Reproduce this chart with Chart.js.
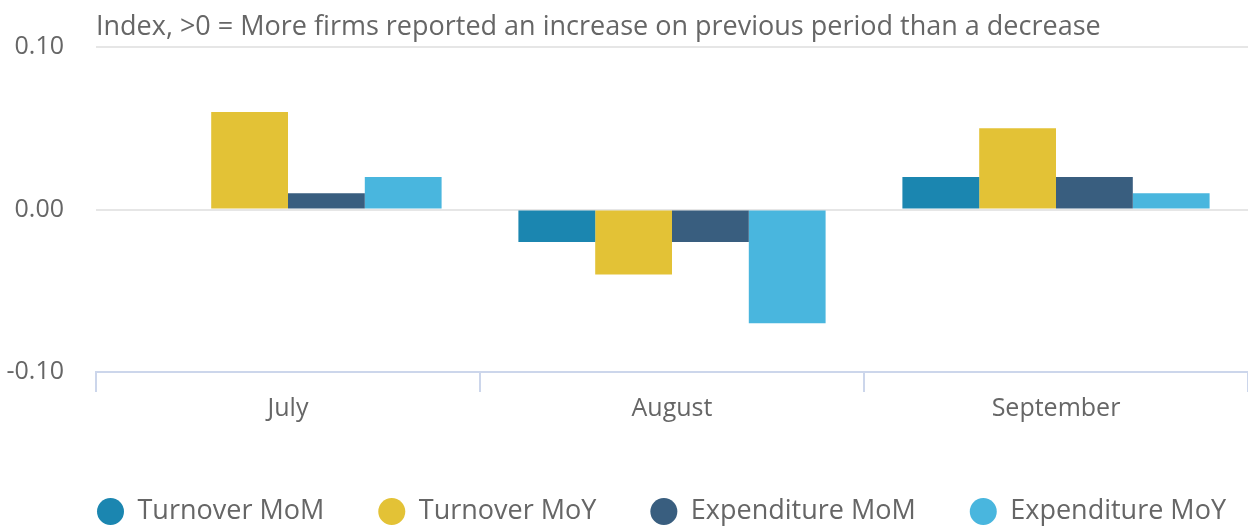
<!DOCTYPE html>
<html>
<head>
<meta charset="utf-8">
<script src="https://cdn.jsdelivr.net/npm/chart.js@4.4.0/dist/chart.umd.min.js"></script>
<style>
  html, body { margin: 0; padding: 0; background: #ffffff; }
  canvas { display: block; }
</style>
</head>
<body>
<canvas id="myChart" width="1248" height="532"></canvas>
<script>
// data
var months = ["July", "August", "September"];
var turnoverMoM = [0, -0.02, 0.02];
var turnoverMoY = [0.06, -0.04, 0.05];
var expenditureMoM = [0.01, -0.02, 0.02];
var expenditureMoY = [0.02, -0.07, 0.01];
var yTickValues = [-0.1, 0, 0.1];
var yTitle = "Index, >0 = More firms reported an increase on previous period than a decrease";

var textGrey = '#666666';
var fontFamily = "'Open Sans', sans-serif";

// keep the legend starting at the left edge of the plot, like the original
var legendShift = {
    id: 'legendShift',
    afterLayout: function(chart) {
        var lg = chart.legend;
        if (!lg || !lg.lineWidths) return;
        var pad = lg.options.labels.padding;
        var start = (lg.left + pad + lg.right - lg.lineWidths[0]) / 2;
        var dx = chart.chartArea.left + 1 - start;
        lg.left += dx;
        lg.right += dx;
    }
};

var ctx = document.getElementById("myChart");
var myChart = new Chart(ctx, {
    type: 'bar',
    data: {
        labels: months,
        datasets: [
            { label: 'Turnover MoM', data: turnoverMoM, backgroundColor: '#1b86b0' },
            { label: 'Turnover MoY', data: turnoverMoY, backgroundColor: '#e3c236' },
            { label: 'Expenditure MoM', data: expenditureMoM, backgroundColor: '#395e7f' },
            { label: 'Expenditure MoY', data: expenditureMoY, backgroundColor: '#49b6de' }
        ]
    },
    options: {
        responsive: false,
        animation: false,
        categoryPercentage: 0.8,
        barPercentage: 1.0,
        layout: { padding: { top: 10, left: 0, right: 0, bottom: -3 } },
        scales: {
            x: {
                grid: { drawOnChartArea: false, color: '#ccd6eb', lineWidth: 2, tickLength: 20 },
                border: { color: '#ccd6eb', width: 2 },
                ticks: { padding: 2, color: textGrey, font: { family: fontFamily, size: 25 } },
                afterFit: function(s) { s.height = 72; }
            },
            y: {
                min: -0.1,
                max: 0.1,
                afterBuildTicks: function(s) {
                    s.ticks = yTickValues.map(function(v) { return { value: v }; });
                },
                ticks: {
                    padding: 32,
                    color: textGrey,
                    font: { family: fontFamily, size: 25 },
                    callback: function(v) { return (Math.abs(v) < 1e-9 ? 0 : v).toFixed(2); }
                },
                grid: {
                    drawTicks: false,
                    lineWidth: 2,
                    color: function(c) { return c.tick && c.tick.value < -0.05 ? 'rgba(0,0,0,0)' : '#e6e6e6'; }
                },
                border: { display: false },
                afterFit: function(s) { s.width = 96; }
            }
        },
        plugins: {
            title: {
                display: true,
                text: yTitle,
                align: 'start',
                fullSize: false,
                color: textGrey,
                font: { family: fontFamily, size: 27, weight: 'normal' },
                padding: { top: 0, bottom: 3.6 }
            },
            legend: {
                position: 'bottom',
                labels: {
                    boxWidth: 27,
                    boxHeight: 27,
                    useBorderRadius: true,
                    borderRadius: 13.5,
                    padding: 54,
                    color: textGrey,
                    font: { family: fontFamily, size: 27 }
                }
            },
            tooltip: { enabled: false }
        }
    },
    plugins: [legendShift]
});
</script>
</body>
</html>
